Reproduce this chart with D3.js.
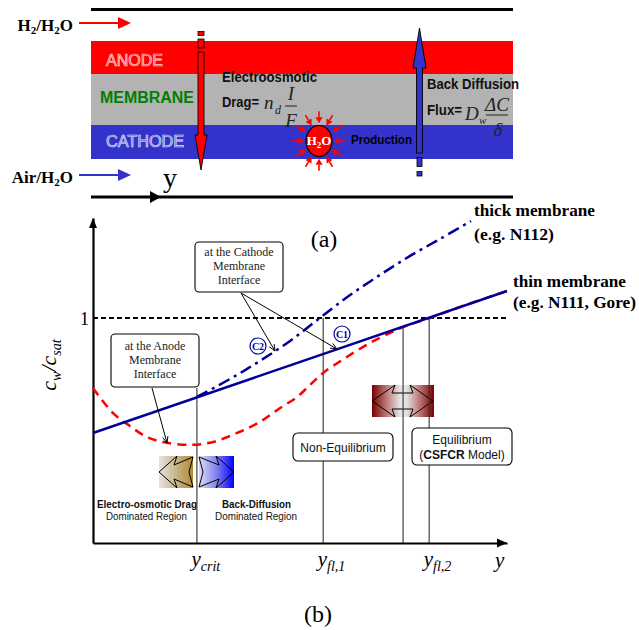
<!DOCTYPE html>
<html><head><meta charset="utf-8">
<script src="https://cdn.jsdelivr.net/npm/d3@7"></script>
<style>body{margin:0;background:#fff} svg{display:block}</style>
</head><body>
<svg id="c" width="639" height="630"></svg>
<script>
// ---------- data ----------
const xTickValues = [2.51, 5.56, 8.12];
const xTickSubs = ["crit", "fl,1", "fl,2"];
const yTickValues = [1];
const thinX = [0, 10];
const thinC = [0.489, 1.12];
const redX = [0,0.48,0.89,1.30,1.69,2.34,2.90,3.48,4.03,4.52,4.93,5.24,5.56,6.09,6.69,7.17,7.49,8.14,8.86,10];
const redC = [0.689,0.578,0.52,0.471,0.449,0.436,0.449,0.489,0.538,0.6,0.649,0.702,0.756,0.822,0.889,0.933,0.96,1.0,1.049,1.12];
const thickX = [2.51,3.31,4.03,4.76,5.48,6.21,6.93,7.66,8.38,9.13];
const thickC = [0.649,0.729,0.809,0.898,1.0,1.102,1.191,1.276,1.351,1.431];
const guideX = [2.51, 5.56, 7.49, 8.12];
const guideTop = [0.689, 1.0, 0.96, 1.0];
const satLevel = 1;

const svg = d3.select("#c");
const defs = svg.append("defs");
function grad(id, stops){
  const g = defs.append("linearGradient").attr("id", id).attr("x1","0").attr("x2","1").attr("y1","0").attr("y2","0");
  stops.forEach(s => g.append("stop").attr("offset", s[0]).attr("stop-color", s[1]));
}
grad("gTan", [[0,"#e6e4e0"],[0.5,"#c9b48a"],[1,"#b08a30"]]);
grad("gBlue", [[0,"#dcdcf2"],[0.5,"#8080f0"],[1,"#0000ff"]]);
grad("gRed", [[0,"#7a0000"],[0.25,"#c08080"],[0.45,"#e4e4e4"],[0.55,"#e4e4e4"],[0.75,"#c08080"],[1,"#7a0000"]]);

const SANS = "'Liberation Sans', Arial, sans-serif";
const SERIF = "'Liberation Serif', 'Times New Roman', serif";

// ================= panel (a) =================
const a = svg.append("g");
a.append("line").attr("x1",91).attr("x2",513).attr("y1",9.5).attr("y2",9.5).attr("stroke","#000").attr("stroke-width",3);
a.append("rect").attr("x",91).attr("y",41).attr("width",422).attr("height",33).attr("fill","#ff0000");
a.append("rect").attr("x",91).attr("y",74).attr("width",422).attr("height",51).attr("fill","#b3b3b3");
a.append("rect").attr("x",91).attr("y",125).attr("width",422).attr("height",34).attr("fill","#3333cc");
a.append("line").attr("x1",91).attr("x2",513).attr("y1",197).attr("y2",197).attr("stroke","#000").attr("stroke-width",3);
a.append("path").attr("d","M150,191 L161,197 L150,203 Z").attr("fill","#000");
a.append("text").attr("x",163).attr("y",187).attr("font-family",SERIF).attr("font-size",28).text("y");

// inlet labels
function inlet(yy, color, parts){
  const t = a.append("text").attr("x",73).attr("y",yy+8).attr("text-anchor","end")
    .attr("font-family",SERIF).attr("font-weight","bold").attr("font-size",17);
  parts.forEach(p => t.append("tspan").attr("font-size",p[1]?11:17).attr("dy",p[1]?3:(p[2]?-3:0)).text(p[0]));
  a.append("line").attr("x1",79).attr("x2",120).attr("y1",yy).attr("y2",yy).attr("stroke",color).attr("stroke-width",2.2);
  a.append("path").attr("d",`M118,${yy-6} L131,${yy} L118,${yy+6} Z`).attr("fill",color);
}
inlet(23, "#ff0000", [["H",0],["2",1],["/H",0,1],["2",1],["O",0,1]]);
inlet(175, "#3333cc", [["Air/H",0],["2",1],["O",0,1]]);

// layer labels (embossed look)
function layerText(txt, xx, yy, w){
  a.append("text").attr("x",xx).attr("y",yy).attr("font-family",SANS).attr("font-size",16)
   .attr("fill","#ffffff").attr("fill-opacity",0.22).attr("stroke","#ffffff").attr("stroke-opacity",0.85).attr("stroke-width",0.7)
   .attr("textLength",w).attr("lengthAdjust","spacingAndGlyphs").text(txt);
}
layerText("ANODE", 106, 66, 57);
layerText("CATHODE", 106, 147, 78);
a.append("text").attr("x",100).attr("y",103).attr("font-family",SANS).attr("font-weight","bold").attr("font-size",16)
 .attr("fill","#008000").attr("textLength",94).attr("lengthAdjust","spacingAndGlyphs").text("MEMBRANE");

// drag arrow (red, down)
a.append("rect").attr("x",198).attr("y",31.5).attr("width",6).attr("height",4).attr("fill","#ff0000").attr("stroke","#000").attr("stroke-width",0.8);
a.append("rect").attr("x",198).attr("y",39).attr("width",6).attr("height",9).attr("fill","#ff0000").attr("stroke","#000").attr("stroke-width",0.8);
a.append("path").attr("d","M198,52 L204,52 L204,135 L207,135 L201,170 L195,135 L198,135 Z")
 .attr("fill","#ff0000").attr("stroke","#000").attr("stroke-width",0.9);

// back diffusion arrow (blue, up)
a.append("path").attr("d","M416.5,153 L422.5,153 L422.5,68 L426,68 L419.5,28 L413,68 L416.5,68 Z")
 .attr("fill","#3333cc").attr("stroke","#000").attr("stroke-width",0.9);
a.append("rect").attr("x",417).attr("y",157.5).attr("width",5).attr("height",9).attr("fill","#3333cc").attr("stroke","#000").attr("stroke-width",0.8);
a.append("rect").attr("x",417).attr("y",171.5).attr("width",5).attr("height",4.5).attr("fill","#3333cc").attr("stroke","#000").attr("stroke-width",0.8);

// Electroosmotic drag text
function sansB(txt, xx, yy, w){
  a.append("text").attr("x",xx).attr("y",yy).attr("font-family",SANS).attr("font-weight","bold").attr("font-size",14.5)
   .attr("fill","#111").attr("textLength",w).attr("lengthAdjust","spacingAndGlyphs").text(txt);
}
sansB("Electroosmotic", 222, 82, 95);
sansB("Drag=", 222, 107, 37);
a.append("text").attr("x",264).attr("y",109).attr("font-family",SERIF).attr("font-style","italic").attr("font-size",19).attr("fill","#222").text("n");
a.append("text").attr("x",275).attr("y",114).attr("font-family",SERIF).attr("font-style","italic").attr("font-size",12).attr("fill","#222").text("d");
a.append("text").attr("x",291).attr("y",100).attr("text-anchor","middle").attr("font-family",SERIF).attr("font-style","italic").attr("font-size",19).attr("fill","#222").text("I");
a.append("line").attr("x1",285).attr("x2",297).attr("y1",106).attr("y2",106).attr("stroke","#222").attr("stroke-width",1);
a.append("text").attr("x",291).attr("y",127).attr("text-anchor","middle").attr("font-family",SERIF).attr("font-style","italic").attr("font-size",19).attr("fill","#222").text("F");

// Back diffusion text
sansB("Back Diffusion", 427, 89, 92);
sansB("Flux=", 427, 115, 35);
a.append("text").attr("x",465).attr("y",120).attr("font-family",SERIF).attr("font-style","italic").attr("font-size",19).attr("fill","#222").text("D");
a.append("text").attr("x",479).attr("y",124).attr("font-family",SERIF).attr("font-style","italic").attr("font-size",11).attr("fill","#222").text("w");
a.append("text").attr("x",497).attr("y",111).attr("text-anchor","middle").attr("font-family",SERIF).attr("font-style","italic").attr("font-size",19).attr("fill","#222").text("\u0394C");
a.append("line").attr("x1",486).attr("x2",508).attr("y1",115).attr("y2",115).attr("stroke","#222").attr("stroke-width",1);
a.append("text").attr("x",498).attr("y",136).attr("text-anchor","middle").attr("font-family",SERIF).attr("font-style","italic").attr("font-size",19).attr("fill","#222").text("\u03b4");

// Production
a.append("text").attr("x",351).attr("y",144).attr("font-family",SANS).attr("font-weight","bold").attr("font-size",13.5)
 .attr("textLength",61).attr("lengthAdjust","spacingAndGlyphs").text("Production");

// H2O droplet with inward arrows
const cx = 319, cy = 141;
d3.range(0, 360, 30).forEach(deg => {
  const r = deg * Math.PI / 180;
  const ca = Math.cos(r), sa = Math.sin(r);
  const R1 = 27, R2 = 17.5;
  const ox = cx + ca*R1*1.0, oy = cy + sa*R1*1.1;
  const tx = cx + ca*R2*0.85, ty = cy + sa*R2*1.02;
  const px = -sa, py = ca;
  const bx = tx + ca*6, by = ty + sa*6;
  a.append("line").attr("x1",ox).attr("y1",oy).attr("x2",bx).attr("y2",by).attr("stroke","#ff0000").attr("stroke-width",1.6);
  a.append("path").attr("d",`M${tx},${ty} L${bx+px*3.5},${by+py*3.5} L${bx-px*3.5},${by-py*3.5} Z`).attr("fill","#ff0000");
});
a.append("ellipse").attr("cx",cx).attr("cy",cy).attr("rx",13).attr("ry",15.5).attr("fill","#ff0000").attr("stroke","#000").attr("stroke-width",1.2);
const h2o = a.append("text").attr("x",cx).attr("y",cy+4).attr("text-anchor","middle").attr("font-family",SERIF)
 .attr("font-weight","bold").attr("font-size",13).attr("fill","#fff");
h2o.append("tspan").text("H");
h2o.append("tspan").attr("font-size",9).attr("dy",3).text("2");
h2o.append("tspan").attr("dy",-3).text("O");

svg.append("text").attr("x",324).attr("y",247).attr("text-anchor","middle").attr("font-family",SERIF).attr("font-size",24).text("(a)");

// ================= panel (b) =================
const x = d3.scaleLinear().domain([0, 10]).range([93, 507]);
const y = d3.scaleLinear().domain([0, 1.4444]).range([543, 218]);
const b = svg.append("g");

// guide lines
guideX.forEach((gx, i) => {
  b.append("line").attr("x1",x(gx)).attr("x2",x(gx)).attr("y1",y(guideTop[i])).attr("y2",y(0))
   .attr("stroke","#333").attr("stroke-width",1.1);
});

// saturation dashed line
b.append("line").attr("x1",x(0)).attr("x2",x(10)).attr("y1",y(satLevel)).attr("y2",y(satLevel))
 .attr("stroke","#000").attr("stroke-width",2).attr("stroke-dasharray","5,3");

// axes
const xAxis = b.append("g").attr("transform",`translate(0,${y(0)})`)
 .call(d3.axisBottom(x).tickValues(xTickValues).tickSize(0).tickSizeOuter(0).tickFormat(""));
xAxis.select(".domain").attr("stroke-width",2.2);
xAxis.selectAll(".tick text").remove();
xAxis.selectAll(".tick").each(function(d, i){
  const t = d3.select(this).append("text").attr("x",-6).attr("y",23).attr("fill","#000")
    .attr("font-family",SERIF).attr("font-style","italic").attr("font-size",21).attr("text-anchor","start");
  t.append("tspan").text("y");
  t.append("tspan").attr("font-size",14).attr("dy",5).text(xTickSubs[i]);
});
b.append("path").attr("d",`M${x(10)-10},${y(0)-4.5} L${x(10)},${y(0)} L${x(10)-10},${y(0)+4.5} Z`).attr("fill","#000");
b.append("text").attr("x",495).attr("y",567).attr("font-family",SERIF).attr("font-style","italic").attr("font-size",21).text("y");

const yAxis = b.append("g").attr("transform",`translate(${x(0)},0)`)
 .call(d3.axisLeft(y).tickValues(yTickValues).tickSize(0).tickSizeOuter(0).tickFormat(d3.format("d")));
yAxis.select(".domain").attr("stroke-width",2.2);
yAxis.selectAll(".tick text").attr("x",-4).attr("dy","0.36em").attr("font-family",SERIF).attr("font-size",18).attr("fill","#000");
b.append("path").attr("d",`M${x(0)-4},${y(1.4444)+10} L${x(0)},${y(1.4444)} L${x(0)+4},${y(1.4444)+10} Z`).attr("fill","#000");

// y label
const yl = b.append("text").attr("transform","translate(56,365) rotate(-90)").attr("text-anchor","middle")
 .attr("font-family",SERIF).attr("font-style","italic").attr("font-size",22);
yl.append("tspan").text("c");
yl.append("tspan").attr("font-size",14).attr("dy",5).text("w");
yl.append("tspan").attr("dy",-5).text("/c");
yl.append("tspan").attr("font-size",14).attr("dy",5).text("sat");

// curves
const line = d3.line().x(d => x(d[0])).y(d => y(d[1])).curve(d3.curveCatmullRom);
b.append("path").datum(d3.zip(redX, redC)).attr("d", line).attr("fill","none")
 .attr("stroke","#ff0000").attr("stroke-width",2.5).attr("stroke-dasharray","9,6");
b.append("path").datum(d3.zip(thinX, thinC)).attr("d", d3.line().x(d => x(d[0])).y(d => y(d[1]))).attr("fill","none")
 .attr("stroke","#000099").attr("stroke-width",2.5);
b.append("path").datum(d3.zip(thickX, thickC)).attr("d", line).attr("fill","none")
 .attr("stroke","#000099").attr("stroke-width",2.5).attr("stroke-dasharray","12,5,3,5");

// curve labels
function boldSerif(txt, xx, yy, w){
  b.append("text").attr("x",xx).attr("y",yy).attr("font-family",SERIF).attr("font-weight","bold").attr("font-size",17)
   .attr("textLength",w).attr("lengthAdjust","spacingAndGlyphs").text(txt);
}
boldSerif("thick membrane", 474, 216, 121);
boldSerif("(e.g. N112)", 474, 240, 80);
boldSerif("thin membrane", 513, 287, 113);
boldSerif("(e.g. N111, Gore)", 513, 308, 123);

// callout boxes
function callout(x0, y0, w, h, lines, baselines){
  b.append("rect").attr("x",x0).attr("y",y0).attr("width",w).attr("height",h).attr("rx",4)
   .attr("fill","#fff").attr("stroke","#000").attr("stroke-width",1.1);
  lines.forEach((l, i) => b.append("text").attr("x",x0+w/2).attr("y",baselines[i]).attr("text-anchor","middle")
   .attr("font-family",SERIF).attr("font-size",12).attr("fill","#222").text(l));
}
function arrow(x1, y1, x2, y2){
  b.append("line").attr("x1",x1).attr("y1",y1).attr("x2",x2).attr("y2",y2).attr("stroke","#000").attr("stroke-width",1);
  const ang = Math.atan2(y2-y1, x2-x1), L = 7, s = 0.4;
  const p1 = [x2 - L*Math.cos(ang-s), y2 - L*Math.sin(ang-s)];
  const p2 = [x2 - L*Math.cos(ang+s), y2 - L*Math.sin(ang+s)];
  b.append("path").attr("d",`M${p1[0]},${p1[1]} L${x2},${y2} L${p2[0]},${p2[1]}`).attr("fill","none").attr("stroke","#000").attr("stroke-width",1);
}
callout(195, 242, 88, 50, ["at the Cathode","Membrane","Interface"], [256, 270, 284]);
arrow(241, 293, 275, 351);
arrow(241, 293, 337, 349);
callout(111, 334, 88, 53, ["at the Anode","Membrane","Interface"], [350, 364, 378]);
arrow(152, 388, 167, 443);

// C1/C2 markers
function marker(cxm, cym, label){
  b.append("circle").attr("cx",cxm).attr("cy",cym).attr("r",8).attr("fill","#fff").attr("stroke","#000099").attr("stroke-width",1.2);
  b.append("text").attr("x",cxm).attr("y",cym+3.5).attr("text-anchor","middle").attr("font-family",SERIF)
   .attr("font-weight","bold").attr("font-size",10).attr("fill","#000099").text(label);
}
marker(258, 346, "C2");
marker(342, 334, "C1");

// region boxes
function regionBox(x0, y0, w, h){
  b.append("rect").attr("x",x0).attr("y",y0).attr("width",w).attr("height",h).attr("rx",5)
   .attr("fill","#fff").attr("stroke","#000").attr("stroke-width",1.1);
}
regionBox(293, 433, 100, 28);
b.append("text").attr("x",343).attr("y",452).attr("text-anchor","middle").attr("font-family",SANS).attr("font-size",12).attr("fill","#111").text("Non-Equilibrium");
regionBox(412, 428, 100, 37);
b.append("text").attr("x",462).attr("y",444).attr("text-anchor","middle").attr("font-family",SANS).attr("font-size",12).attr("fill","#111").text("Equilibrium");
const eq = b.append("text").attr("x",462).attr("y",458.5).attr("text-anchor","middle").attr("font-family",SANS).attr("font-size",12).attr("fill","#111");
eq.append("tspan").text("(");
eq.append("tspan").attr("font-weight","bold").text("CSFCR");
eq.append("tspan").text(" Model)");

// gradient arrow tiles
b.append("rect").attr("x",159).attr("y",456).attr("width",34).attr("height",32).attr("fill","url(#gTan)");
b.append("path").attr("d","M159,472 L177,456 L174,465 L193,457 L189,472 L193,487 L174,479 L177,488 Z").attr("fill","none").attr("stroke","#000").attr("stroke-width",1);
b.append("rect").attr("x",199).attr("y",456).attr("width",35).attr("height",32).attr("fill","url(#gBlue)");
b.append("path").attr("d","M234,472 L216,456 L219,465 L199,457 L203,472 L199,487 L219,479 L216,488 Z").attr("fill","none").attr("stroke","#000").attr("stroke-width",1);
b.append("rect").attr("x",372).attr("y",385).attr("width",62).attr("height",32).attr("fill","url(#gRed)");
b.append("path").attr("d","M372,401 L395,385 L392,393 L413,393 L410,385 L433,401 L410,417 L413,409 L392,409 L395,417 Z").attr("fill","none").attr("stroke","#000").attr("stroke-width",1);
[7.49, 8.12].forEach(gx => b.append("line").attr("x1",x(gx)).attr("x2",x(gx)).attr("y1",385).attr("y2",417).attr("stroke","#333").attr("stroke-width",1.1));

// region captions
function cap(txt, xx, yy, w, bold){
  b.append("text").attr("x",xx).attr("y",yy).attr("text-anchor","middle").attr("font-family",SANS)
   .attr("font-weight",bold?"bold":"normal").attr("font-size",10).attr("fill","#111")
   .attr("textLength",w).attr("lengthAdjust","spacingAndGlyphs").text(txt);
}
cap("Electro-osmotic Drag", 147, 508, 100, true);
cap("Dominated Region", 146.5, 520, 81, false);
cap("Back-Diffusion", 256.5, 508, 69, true);
cap("Dominated Region", 256, 520, 82, false);

svg.append("text").attr("x",318).attr("y",622).attr("text-anchor","middle").attr("font-family",SERIF).attr("font-size",24).text("(b)");
</script>
</body></html>
